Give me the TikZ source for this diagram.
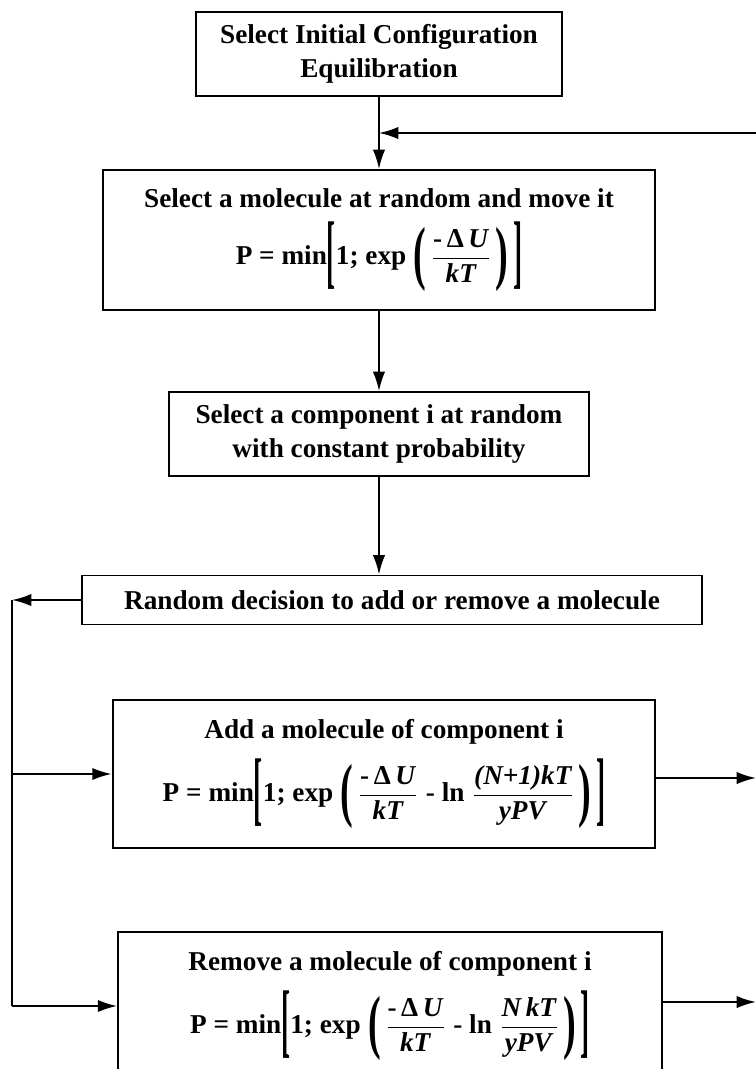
\documentclass[tikz,border=0pt]{standalone}
\usepackage{amsmath}
\usepackage{graphicx}
\usepackage{fontspec}
\setmainfont{Liberation Serif}
\usetikzlibrary{positioning,arrows.meta}

% tall brackets cut from the text font
\newcommand{\tallsym}[4]{\raisebox{#4}{\scalebox{#2}[#3]{#1}}}
\newcommand{\accP}[1]{P = min\tallsym{[}{1}{3}{-0.5em}1; exp\;\tallsym{(}{1.4}{2.6}{-0.43em}\,#1\,\tallsym{)}{1.4}{2.6}{-0.43em}\,\tallsym{]}{1}{3}{-0.5em}}
\newcommand{\dU}{$\dfrac{\textbf{-\,Δ\,\textit{U}}}{\textbf{\textit{kT}}}$}

\begin{document}
\begin{tikzpicture}[x=0.02cm, y=-0.02cm, line width=1.1pt,
  box/.style={draw, rectangle, align=center, inner sep=2pt,
    font=\fontsize{15.5}{19.5}\selectfont\bfseries},
  arr/.style={-{Latex[length=11pt, width=7pt]}}]
\useasboundingbox (0,0) rectangle (756,1069);

\node[box, minimum width=7.32cm, minimum height=1.68cm] (init) at (379,54)
  {Select Initial Configuration\\Equilibration};
\node[box, minimum width=11.04cm, minimum height=2.8cm] (move) at (379,240)
  {Select a molecule at random and move it\\[7pt] \accP{\dU}};
\node[box, minimum width=8.4cm, minimum height=1.68cm] (comp) at (379,434)
  {Select a component i at random\\with constant probability};
\node[box, minimum width=12.42cm, minimum height=0.98cm] (dec) at (392,600)
  {Random decision to add or remove a molecule};
\node[box, minimum width=10.86cm, minimum height=2.96cm] (add) at (384,774)
  {Add a molecule of component i\\[7pt]
   \accP{\dU\;- ln\;$\dfrac{\textbf{\textit{(N+1)kT}}}{\textbf{\textit{yPV}}}$}};
\node[box, minimum width=10.88cm, minimum height=2.96cm] (rem) at (390,1006)
  {Remove a molecule of component i\\[7pt]
   \accP{\dU\;- ln\;$\dfrac{\textbf{\textit{N\,kT}}}{\textbf{\textit{yPV}}}$}};

\coordinate (back) at (756,133);
\coordinate (lft) at (12,600);
\coordinate (outa) at (756,778);
\coordinate (outr) at (756,1002);

\draw[arr] (init.south) -- (move.north);
\draw[arr] (back) -- (back -| init.south);
\draw[arr] (move.south) -- (comp.north);
\draw[arr] (comp.south) -- (comp.south |- dec.north);
\draw[arr] (dec.west) -- (lft);
\draw (lft) -- (lft |- rem.west);
\draw[arr] (lft |- add.west) -- (add.west);
\draw[arr] (lft |- rem.west) -- (rem.west);
\draw[arr] (add.east |- outa) -- (outa);
\draw[arr] (rem.east |- outr) -- (outr);
\end{tikzpicture}
\end{document}
